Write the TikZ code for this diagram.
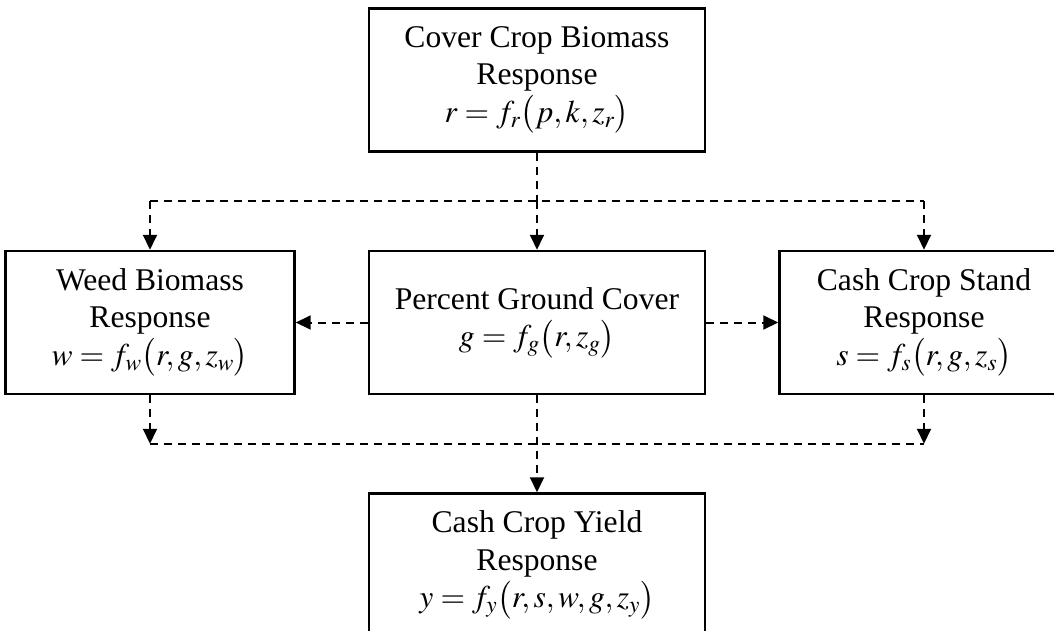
\documentclass[tikz,border=0pt]{standalone}
\usepackage{mathptmx}
\usepackage[no-math]{fontspec}
\setmainfont{Liberation Serif}
\usetikzlibrary{arrows.meta,positioning,calc}

\begin{document}
\begin{tikzpicture}[>={Triangle[length=15pt,width=14pt]},node distance=97pt and 72pt,
  link/.style={line width=2pt,dash pattern=on 8pt off 6pt},
  main node/.style={draw,line width=2.5pt,align=center,inner sep=0pt,
    minimum width=336pt,minimum height=143pt,font=\fontsize{31.6}{37.5}\selectfont},
  side node/.style={main node,minimum width=289pt}]

  \clip (-537pt,-307.5pt) rectangle (517pt,322.5pt);

  \node[main node] (ground) at (0,0) {Percent Ground Cover\\$g=f_g\bigl(r,z_g\bigr)$};
  \node[main node] (cover) [above=of ground] {Cover Crop Biomass\\Response\\$r=f_r\bigl(p,k,z_r\bigr)$};
  \node[side node] (weed)  [left=of ground]  {Weed Biomass\\Response\\$w=f_w\bigl(r,g,z_w\bigr)$};
  \node[side node] (stand) [right=of ground] {Cash Crop Stand\\Response\\$s=f_s\bigl(r,g,z_s\bigr)$};
  \node[main node] (yield) [below=of ground] {Cash Crop Yield\\Response\\$y=f_y\bigl(r,s,w,g,z_y\bigr)$};

  % junctions of the dashed links
  \coordinate (split)  at ($(cover.south)!0.5!(ground.north)$);
  \coordinate (splitL) at (weed.north |- split);
  \coordinate (splitR) at (stand.north |- split);
  \coordinate (join)   at ($(ground.south)!0.5!(yield.north)$);
  \coordinate (joinL)  at (weed.south |- join);
  \coordinate (joinR)  at (stand.south |- join);

  \path[link]
    (cover) edge (split)
    (splitL) edge (splitR)
    (splitL) edge[->] (weed)
    (split) edge[->] (ground)
    (splitR) edge[->] (stand)
    (ground.west) edge[->] (weed.east)
    (ground.east) edge[->] (stand.west)
    (weed) edge[->] (joinL)
    (stand) edge[->] (joinR)
    (joinL) edge (joinR)
    (ground) edge[->] (yield);
\end{tikzpicture}
\end{document}
